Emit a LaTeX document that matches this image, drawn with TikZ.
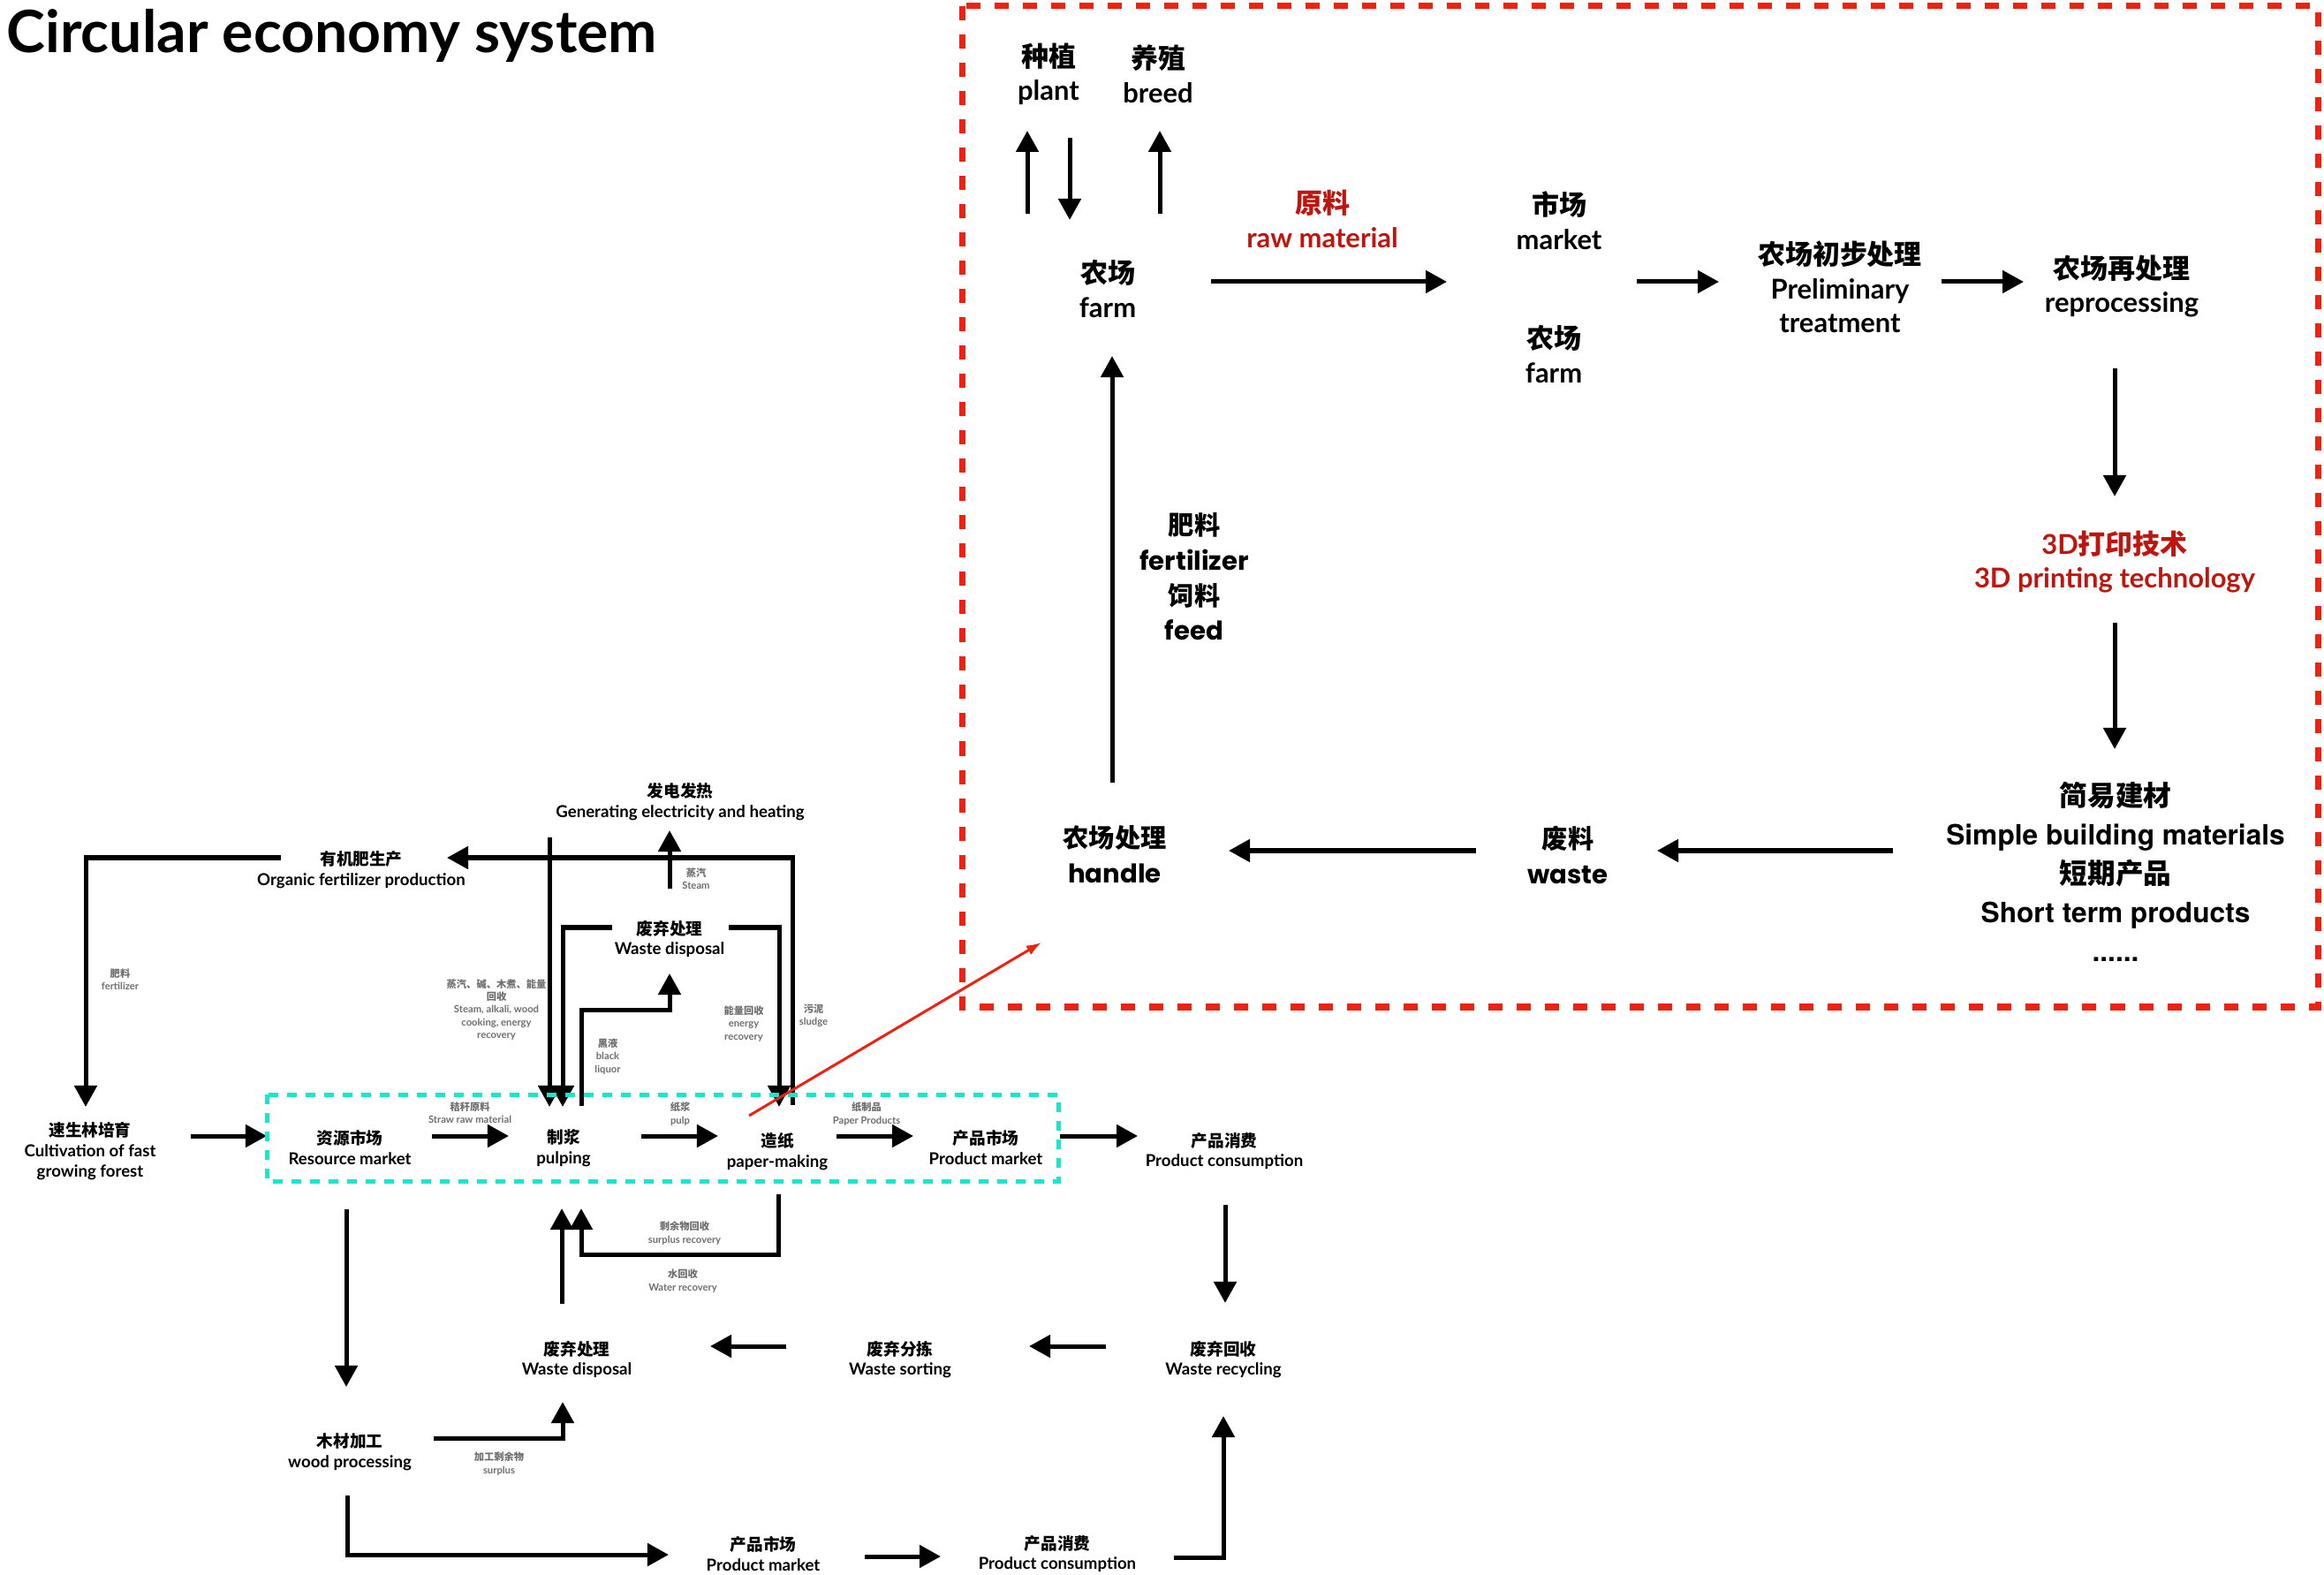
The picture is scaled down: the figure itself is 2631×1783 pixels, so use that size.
\documentclass[tikz,border=0pt]{standalone}
\usepackage{fontspec}
\setmainfont{Lato}
\newfontfamily\cjk{Noto Sans CJK SC}
\newfontfamily\geo{Poppins}
\newfontfamily\helv{TeX Gyre Heros}
\usepackage{xcolor}
\usepackage{tikz}
\usetikzlibrary{arrows.meta}

\definecolor{rawred}{RGB}{190,22,14}
\definecolor{boxred}{RGB}{238,34,17}
\definecolor{loopcyan}{RGB}{24,230,205}
\definecolor{notegray}{RGB}{110,110,110}

\begin{document}
\begin{tikzpicture}[
  x=0.01cm, y=-0.01cm,
  lbl/.style={font=\fontsize{5.3}{6.5}\selectfont\bfseries, align=center, inner sep=0pt},
  note/.style={font=\fontsize{3.2}{4.1}\selectfont\bfseries, text=notegray, align=center, inner sep=0pt},
  big/.style={font=\fontsize{8.8}{11}\selectfont\bfseries, align=center, inner sep=0pt},
  geotext/.style={font=\fontsize{8.3}{11.3}\selectfont\bfseries\geo, align=center, inner sep=0pt},
  herotext/.style={font=\fontsize{9}{12.5}\selectfont\bfseries\helv, align=center, inner sep=0pt},
  flow/.style={line width=0.05cm, -{Triangle[length=0.24cm, width=0.25cm]}},
]
  \useasboundingbox (0,0) rectangle (2631,1783);

  % Title
  \node[font=\fontsize{18.8}{22}\selectfont\bfseries, anchor=base west, inner sep=0pt]
    (title) at (7,60) {Circular economy system};

  % Farm frame
  \draw[boxred, line width=0.07cm, dash pattern=on 0.16cm off 0.16cm]
    (1089,7) rectangle (2624,1140);

  % Farm nodes
  \node[big] (plant) at (1187,84) {{\cjk 种植}\\plant};
  \node[big] (breed) at (1311,84) {{\cjk 养殖}\\breed};
  \node[big] (farmA) at (1254,327) {{\cjk 农场}\\farm};
  \node[big, text=rawred] (rawmat) at (1497,248) {{\cjk 原料}\\raw material};
  \node[big] (market) at (1765,250) {{\cjk 市场}\\market};
  \node[big] (farmB) at (1759,401) {{\cjk 农场}\\farm};
  \node[big] (prelim) at (2083,325) {{\cjk 农场初步处理}\\Preliminary\\treatment};
  \node[big] (reproc) at (2402,324) {{\cjk 农场再处理}\\reprocessing};
  \node[big, text=rawred] (print) at (2394,636) {3D{\cjk 打印技术}\\3D printing technology};
  \node[herotext] (simple) at (2395,987)
    {{\cjk 简易建材}\\Simple building materials\\{\cjk 短期产品}\\Short term products\\......};
  \node[geotext] (waste) at (1775,968) {{\cjk 废料}\\waste};
  \node[geotext] (handle) at (1262,967) {{\cjk 农场处理}\\handle};
  \node[geotext] (fertfeed) at (1352,653) {{\cjk 肥料}\\fertilizer\\{\cjk 饲料}\\feed};

  % Farm connector ends
  \coordinate (upPlantS) at (1163,242); \coordinate (upPlantE) at (1163,148);
  \coordinate (dnPlantS) at (1211,156); \coordinate (dnPlantE) at (1211,249);
  \coordinate (upBreedS) at (1313,242); \coordinate (upBreedE) at (1313,148);
  \coordinate (rawS) at (1371,319); \coordinate (rawE) at (1638,319);
  \coordinate (mktS) at (1853,319); \coordinate (mktE) at (1946,319);
  \coordinate (preS) at (2198,319); \coordinate (preE) at (2291,319);
  \coordinate (repS) at (2394,417); \coordinate (repE) at (2394,562);
  \coordinate (prtS) at (2394,705); \coordinate (prtE) at (2394,848);
  \coordinate (simS) at (2143,963); \coordinate (simE) at (1876,963);
  \coordinate (wstS) at (1671,963); \coordinate (wstE) at (1391,963);
  \coordinate (hdlS) at (1259,886); \coordinate (hdlE) at (1259,403);

  % Farm connectors
  \draw[flow] (upPlantS) -- (upPlantE);
  \draw[flow] (dnPlantS) -- (dnPlantE);
  \draw[flow] (upBreedS) -- (upBreedE);
  \draw[flow] (rawS) -- (rawE);
  \draw[flow] (mktS) -- (mktE);
  \draw[flow] (preS) -- (preE);
  \draw[flow] (repS) -- (repE);
  \draw[flow] (prtS) -- (prtE);
  \draw[flow] (simS) -- (simE);
  \draw[flow] (wstS) -- (wstE);
  \draw[flow] (hdlS) -- (hdlE);

  % Paper industry nodes
  \node[lbl] (orgfert) at (409,985) {{\cjk 有机肥生产}\\Organic fertilizer production};
  \node[lbl] (forest) at (102,1303) {{\cjk 速生林培育}\\Cultivation of fast\\growing forest};
  \node[lbl] (resmkt) at (396,1299) {{\cjk 资源市场}\\Resource market};
  \node[lbl] (pulping) at (638,1300) {{\cjk 制浆}\\pulping};
  \node[lbl] (papermk) at (880,1304) {{\cjk 造纸}\\paper-making};
  \node[lbl] (prodmkt) at (1116,1299) {{\cjk 产品市场}\\Product market};
  \node[lbl] (prodcons) at (1386,1303) {{\cjk 产品消费}\\Product consumption};
  \node[lbl] (power) at (770,908) {{\cjk 发电发热}\\Generating electricity and heating};
  \node[lbl] (wasteA) at (758,1063) {{\cjk 废弃处理}\\Waste disposal};
  \node[lbl] (wasteB) at (653,1539) {{\cjk 废弃处理}\\Waste disposal};
  \node[lbl] (sorting) at (1019,1539) {{\cjk 废弃分拣}\\Waste sorting};
  \node[lbl] (recycle) at (1385,1539) {{\cjk 废弃回收}\\Waste recycling};
  \node[lbl] (wood) at (396,1644) {{\cjk 木材加工}\\wood processing};
  \node[lbl] (prodmktB) at (864,1759) {{\cjk 产品市场}\\Product market};
  \node[lbl] (prodconsB) at (1197,1759) {{\cjk 产品消费}\\Product consumption};

  % Flow notes
  \node[note] (nFert) at (136,1109) {{\cjk 肥料}\\fertilizer};
  \node[note] (nStraw) at (532,1260) {{\cjk 秸秆原料}\\Straw raw material};
  \node[note] (nPulp) at (770,1261) {{\cjk 纸浆}\\pulp};
  \node[note] (nPaper) at (981,1261) {{\cjk 纸制品}\\Paper Products};
  \node[note] (nSteam) at (788,995) {{\cjk 蒸汽}\\Steam};
  \node[note] (nAlkali) at (562,1143)
    {{\cjk 蒸汽、碱、木煮、能量}\\{\cjk 回收}\\Steam, alkali, wood\\cooking, energy\\recovery};
  \node[note] (nLiquor) at (688,1196) {{\cjk 黑液}\\black\\liquor};
  \node[note] (nEnergy) at (842,1159) {{\cjk 能量回收}\\energy\\recovery};
  \node[note] (nSludge) at (921,1150) {{\cjk 污泥}\\sludge};
  \node[note] (nSurplus) at (775,1396) {{\cjk 剩余物回收}\\surplus recovery};
  \node[note] (nWater) at (773,1450) {{\cjk 水回收}\\Water recovery};
  \node[note] (nWoodSur) at (565,1657) {{\cjk 加工剩余物}\\surplus};

  % Paper industry connector ends
  \coordinate (orgW) at (318,971); \coordinate (forestN) at (97,1253);
  \coordinate (forestE) at (216,1286); \coordinate (resW) at (302,1286);
  \coordinate (resE) at (489,1286); \coordinate (pulpW) at (576,1286);
  \coordinate (pulpE) at (726,1286); \coordinate (paperW) at (813,1286);
  \coordinate (paperE) at (947,1286); \coordinate (pmktW) at (1034,1286);
  \coordinate (pmktE) at (1200,1286); \coordinate (pconsW) at (1288,1286);
  \coordinate (sludgeS) at (897,1251); \coordinate (orgE) at (506,971);
  \coordinate (steamS) at (758,1006); \coordinate (powerS) at (758,940);
  \coordinate (alkaliS) at (622,948); \coordinate (pulpNa) at (622,1253);
  \coordinate (wasteAW) at (693,1050); \coordinate (pulpNb) at (637,1253);
  \coordinate (wasteAE) at (825,1050); \coordinate (paperN) at (882,1253);
  \coordinate (liquorS) at (658,1252); \coordinate (liquorK) at (758,1143);
  \coordinate (wasteAS) at (758,1102);
  \coordinate (paperS) at (881,1352); \coordinate (surpK) at (658,1420);
  \coordinate (pulpSb) at (658,1368);
  \coordinate (wasteBN) at (636,1476); \coordinate (pulpSa) at (636,1368);
  \coordinate (resS) at (392,1369); \coordinate (woodN) at (392,1570);
  \coordinate (woodE) at (491,1628); \coordinate (wasteBS) at (637,1587);
  \coordinate (pconsS) at (1387,1364); \coordinate (recN) at (1387,1475);
  \coordinate (recW) at (1252,1524); \coordinate (sortE) at (1165,1524);
  \coordinate (sortW) at (890,1524); \coordinate (wasteBE) at (804,1524);
  \coordinate (woodS) at (393,1693); \coordinate (pmktBW) at (757,1760);
  \coordinate (pmktBE) at (979,1762); \coordinate (pconsBW) at (1065,1762);
  \coordinate (pconsBE) at (1329,1763); \coordinate (recS) at (1385,1603);
  \coordinate (paperRed) at (848,1263); \coordinate (handleRed) at (1179,1067);

  % Paper industry connectors
  \draw[flow] (orgW) -| (forestN);
  \draw[flow] (forestE) -- (resW);
  \draw[flow] (resE) -- (pulpW);
  \draw[flow] (pulpE) -- (paperW);
  \draw[flow] (paperE) -- (pmktW);
  \draw[flow] (pmktE) -- (pconsW);
  \draw[flow] (sludgeS) |- (orgE);
  \draw[flow] (steamS) -- (powerS);
  \draw[flow] (alkaliS) -- (pulpNa);
  \draw[flow] (wasteAW) -| (pulpNb);
  \draw[flow] (wasteAE) -| (paperN);
  \draw[flow] (liquorS) |- (liquorK) -- (wasteAS);
  \draw[flow] (paperS) |- (surpK) -- (pulpSb);
  \draw[flow] (wasteBN) -- (pulpSa);
  \draw[flow] (resS) -- (woodN);
  \draw[flow] (woodE) -| (wasteBS);
  \draw[flow] (pconsS) -- (recN);
  \draw[flow] (recW) -- (sortE);
  \draw[flow] (sortW) -- (wasteBE);
  \draw[flow] (woodS) |- (pmktBW);
  \draw[flow] (pmktBE) -- (pconsBW);
  \draw[flow] (pconsBE) -| (recS);

  % Paper loop frame
  \draw[loopcyan, line width=0.05cm, dash pattern=on 0.11cm off 0.10cm]
    (302,1239) rectangle (1198,1337);

  % Link to the farm frame
  \draw[boxred, line width=0.03cm, -{Latex[length=0.17cm, width=0.12cm]}]
    (paperRed) -- (handleRed);

\end{tikzpicture}
\end{document}
